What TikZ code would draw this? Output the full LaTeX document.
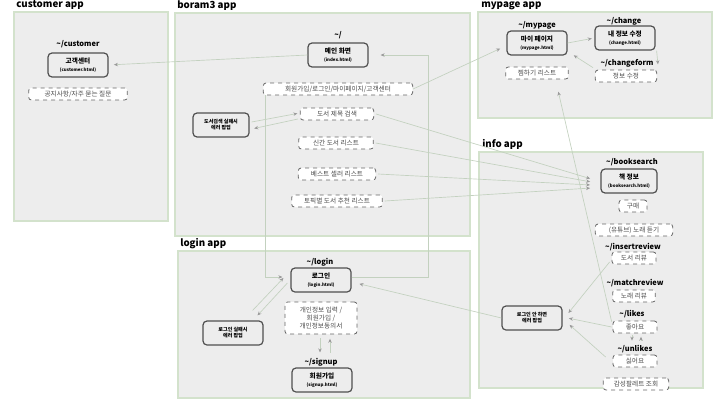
\documentclass[tikz,border=0pt]{standalone}
\usepackage{fontspec}
\setmainfont{Noto Sans CJK KR}
\usetikzlibrary{arrows.meta,calc}

\definecolor{panelfill}{HTML}{EDEDED}
\definecolor{paneledge}{HTML}{D3E2CC}
\definecolor{linkline}{HTML}{C3D1BF}
\definecolor{linktip}{HTML}{9A9A9A}
\definecolor{boxedge}{HTML}{505050}

\newcommand{\htmlfile}[1]{{\fontsize{3.3}{4}\selectfont(#1)}}

\tikzset{
  panel/.style={draw=paneledge, fill=panelfill, line width=0.9pt},
  apptitle/.style={anchor=south west, inner sep=0.75pt, font=\bfseries\fontsize{7.3}{8}\selectfont},
  url/.style={inner sep=0.75pt, font=\bfseries\fontsize{5.6}{6}\selectfont},
  page/.style={draw=boxedge, fill=panelfill, rounded corners=3pt, line width=0.9pt,
    minimum width=45pt, minimum height=18pt, align=center, inner sep=1pt,
    font=\bfseries\fontsize{5}{5.6}\selectfont},
  popup/.style={page, font=\bfseries\fontsize{3.8}{4.6}\selectfont},
  part/.style={draw=black!60, dashed, fill=white, rounded corners=2pt, line width=0.6pt,
    minimum height=9pt, inner sep=1pt, align=center, text=black!70,
    font=\fontsize{5}{6}\selectfont},
  link/.style={draw=linkline, line width=0.5pt, shorten >=1pt,
    -{Stealth[length=3pt, width=2.6pt, color=linktip]}}
}

\begin{document}
\begin{tikzpicture}[x=0.75pt,y=0.75pt,yscale=-1,xscale=1]
        \useasboundingbox (0,0) rectangle (720,400);

        %Shape: Panels
        \draw[panel] (14,12) rectangle (168,221);
        \draw[panel] (175,13) rectangle (470,236);
        \draw[panel] (178,251) rectangle (470,398);
        \draw[panel] (478,12) rectangle (712,118);
        \draw[panel] (479,152) rectangle (703,388);

        % Text Node
        \node[apptitle] (t_customer) at (15,11) {customer app};
        \node[apptitle] (t_boram) at (176,12) {boram3 app};
        \node[apptitle] (t_login) at (179,250) {login app};
        \node[apptitle] (t_mypage) at (480,11) {mypage app};
        \node[apptitle] (t_info) at (481,151) {info app};

        % customer app
        \node[url] (u_customer) at (78,44) {\textasciitilde/customer};
        \node[page] (customer) at (78,65) {고객센터\\\htmlfile{customer.html}};
        \node[part, minimum width=74pt] (notice) at (78,94) {공지사항/자주 묻는 질문};

        % boram3 app
        \node[url] (u_main) at (338,35) {\textasciitilde/};
        \node[page] (main) at (338,55) {메인 화면\\\htmlfile{index.html}};
        \node[part, minimum width=112pt] (menu) at (338,89) {회원가입/로그인/마이페이지/고객센터};
        \node[part, minimum width=55pt] (search) at (337,114) {도서 제목 검색};
        \node[popup, minimum width=42pt] (searchfail) at (221,125) {도서검색 실패시\\에러 팝업};
        \node[part, minimum width=56pt] (newbook) at (336,143) {신간 도서 리스트};
        \node[part, minimum width=58pt] (best) at (337,174) {베스트 셀러 리스트};
        \node[part, minimum width=68pt] (topic) at (337,201) {토픽별 도서 추천 리스트};

        % login app
        \node[url] (u_login) at (320,262) {\textasciitilde/login};
        \node[page] (login) at (321,280) {로그인\\\htmlfile{login.html}};
        \node[part, minimum width=54pt, minimum height=24pt] (joinform) at (321,318) {개인정보 입력 /\\회원가입 /\\개인정보동의서};
        \node[popup] (loginfail) at (233,333) {로그인 실패시\\에러 팝업};
        \node[url] (u_signup) at (321,362) {\textasciitilde/signup};
        \node[page] (signup) at (322,380) {회원가입\\\htmlfile{signup.html}};

        % mypage app
        \node[url] (u_mypage) at (537,25) {\textasciitilde/mypage};
        \node[page] (mypage) at (537,43) {마이 페이지\\\htmlfile{mypage.html}};
        \node[part, minimum width=47pt] (wish) at (537,73) {찜하기 리스트};
        \node[url] (u_change) at (624,21) {\textasciitilde/change};
        \node[page] (change) at (625,38) {내 정보 수정\\\htmlfile{change.html}};
        \node[url] (u_chform) at (627,63) {\textasciitilde/changeform};
        \node[part, minimum width=46pt] (chform) at (626,76) {정보 수정};

        % info app
        \node[url] (u_book) at (632,162) {\textasciitilde/booksearch};
        \node[page, minimum width=42pt] (book) at (629,181) {책 정보\\\htmlfile{booksearch.html}};
        \node[part, minimum width=21pt] (buy) at (633,206) {구매};
        \node[part, minimum width=58pt] (music) at (634,230) {(유튜브) 노래 듣기};
        \node[url] (u_insert) at (633,247) {\textasciitilde/insertreview};
        \node[part, minimum width=33pt] (bookreview) at (634,258) {도서 리뷰};
        \node[url] (u_match) at (635,283) {\textasciitilde/matchreview};
        \node[part, minimum width=32pt] (musicreview) at (634,296) {노래 리뷰};
        \node[url] (u_likes) at (632,314) {\textasciitilde/likes};
        \node[part, minimum width=33pt] (likes) at (635,327) {좋아요};
        \node[url] (u_unlikes) at (635,349) {\textasciitilde/unlikes};
        \node[part, minimum width=33pt] (unlikes) at (635,361) {싫어요};
        \node[part, minimum width=49pt] (palette) at (636,384) {감성팔레트 조회};
        \node[popup] (nologin) at (532,318) {로그인 안 하면\\에러 팝업};

        \coordinate (rightway) at (428,55);

        %Straight Lines
        \draw[link, shorten >=4pt] (main.west) -- (customer.east);
        \draw[link] (menu.east) -- ($(mypage.west)+(-5,5)$);
        \draw[link, shorten >=6pt] ($(menu.south west)+(2,0)$) |- ($(login.west)+(0,-3)$);
        \draw[link, shorten >=9pt] ($(login.east)+(0,-3)$) -| (rightway) -- (main.east);
        \draw[link, shorten >=2pt] ($(searchfail.east)+(2,-3)$) -- ($(search.west)+(0,-1)$);
        \draw[link, shorten >=2pt] ($(search.west)+(-2,5)$) -- ($(searchfail.east)+(2,4)$);
        \draw[link] ($(search.east)+(2,0)$) -- ($(book.west)+(-9,-2)$);
        \draw[link] ($(newbook.east)+(2,0)$) -- ($(book.west)+(-9,1)$);
        \draw[link] ($(best.east)+(2,0)$) -- ($(book.west)+(-9,4)$);
        \draw[link] ($(topic.east)+(2,0)$) -- ($(book.west)+(-9,7)$);
        \draw[link, shorten >=6pt] (nologin.west) -- ($(login.east)+(0,2)$);
        \draw[link] ($(loginfail.north east)+(-11,-10)$) -- ($(login.west)+(-6,-3)$);
        \draw[link] ($(login.west)+(-3,3)$) -- ($(loginfail.north east)+(-7,-4)$);
        \draw[link] ($(joinform.south)+(-1,4)$) -- ($(u_signup.north)+(-1,-3)$);
        \draw[link] ($(u_signup.north)+(9,-4)$) -- ($(joinform.south)+(9,3)$);
        \draw[link, shorten >=2pt] (mypage.east) -- (change.west);
        \draw[link] ($(change.south east)+(1,0)$) -- ($(chform.north east)+(1,-4)$);
        \draw[link] ($(chform.north west)+(-2,-2)$) -- ($(mypage.south east)+(5,-1)$);
        \draw[link] ($(likes.north west)+(-1,1)$) -- ($(wish.south)+(21,11)$);
        \draw[link] ($(bookreview.west)+(-2,4)$) -- ($(nologin.east)+(5,-4)$);
        \draw[link] ($(likes.west)+(-1,0)$) -- ($(nologin.east)+(5,0)$);
        \draw[link] ($(unlikes.west)+(-7,-4)$) -- ($(nologin.east)+(6,6)$);
        \draw[link] ($(likes.south)+(-3,2)$) -- ($(u_unlikes.north)+(-3,-2)$);
        \draw[link] ($(u_unlikes.north)+(6,-3)$) -- ($(likes.south)+(6,2)$);

    \end{tikzpicture}
\end{document}
